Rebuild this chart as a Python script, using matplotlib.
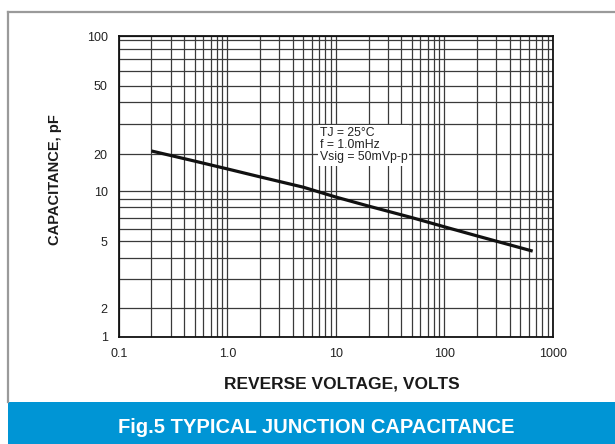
import numpy as np
import matplotlib
matplotlib.use("Agg")
import matplotlib.pyplot as plt
from matplotlib.lines import Line2D
from matplotlib.patches import Rectangle

# === Data ===
voltage = [0.2, 0.5, 1, 2, 5, 10, 20, 50, 100, 200, 650]
capacitance = [20.9, 17.6, 15.2, 13.1, 10.8, 9.2, 8.1, 7.0, 6.15, 5.4, 4.37]

x_ticks = [0.1, 1, 10, 100, 1000]
x_tick_labels = ["0.1", "1.0", "10", "100", "1000"]
y_ticks = [1, 2, 5, 10, 20, 50, 100]
y_tick_labels = ["1", "2", "5", "10", "20", "50", "100"]
y_grid = [1, 2, 3, 4, 5, 6, 7, 8, 9, 10, 20, 30, 40, 50, 60, 70, 80, 90, 100]

# the printed graph paper is not a clean log scale: grid line heights
# (fraction of axis height from the bottom) for each value in y_grid
y_paper = [0.0, 0.0964, 0.1929, 0.2641, 0.3183, 0.3605, 0.3971, 0.4324,
           0.4603, 0.4846, 0.6077, 0.7084, 0.7816, 0.8355, 0.8837, 0.9236,
           0.9568, 0.9867, 1.0]

log_grid = np.log10(y_grid)


def paper_fwd(v):
    v = np.asarray(v, dtype=float)
    with np.errstate(divide="ignore", invalid="ignore"):
        lv = np.log10(np.clip(v, 1e-6, None))
    return np.interp(lv, log_grid, y_paper, left=-1.0, right=2.0)


def paper_inv(p):
    p = np.asarray(p, dtype=float)
    return 10 ** np.interp(p, y_paper, log_grid)


plt.rcParams["font.family"] = ["Liberation Sans", "DejaVu Sans"]

fig = plt.figure(figsize=(6.15, 4.44), dpi=100)
ax = fig.add_axes([0.1932, 0.241, 0.706, 0.6772])

ax.set_xscale("log")
ax.set_yscale("function", functions=(paper_fwd, paper_inv))
ax.set_xlim(0.1, 1000)
ax.set_ylim(1, 100)

ax.plot(voltage, capacitance, color="#111111", lw=2.3, solid_capstyle="butt", zorder=3)

# ticks and grid
ax.set_xticks(x_ticks)
ax.set_xticklabels(x_tick_labels)
ax.set_xticks([m * d for d in x_ticks[:-1] for m in range(2, 10)], minor=True)
ax.set_yticks(y_ticks)
ax.set_yticklabels(y_tick_labels)
ax.set_yticks([v for v in y_grid if v not in y_ticks], minor=True)
ax.tick_params(which="both", length=0)
ax.tick_params(axis="y", pad=8, labelsize=9, labelcolor="#222222")
ax.tick_params(axis="x", pad=8, labelsize=9, labelcolor="#222222")
ax.grid(True, which="both", color="#3a3a3a", lw=0.9)
ax.set_axisbelow(True)
for sp in ax.spines.values():
    sp.set_color("#111111")
    sp.set_linewidth(1.3)

ax.set_xlabel("REVERSE VOLTAGE, VOLTS", fontsize=12.5, fontweight="bold",
              color="#1a1a1a", va="center")
ax.xaxis.set_label_coords(0.514, -0.156)
ax.set_ylabel("CAPACITANCE, pF", fontsize=10.5, fontweight="bold",
              color="#1a1a1a", va="center")
ax.yaxis.set_label_coords(-0.147, 0.522)

ax.text(0.4625, 0.697, "TJ = 25°C\nf = 1.0mHz\nVsig = 50mVp-p",
        transform=ax.transAxes, ha="left", va="top", fontsize=8.8,
        linespacing=1.0, color="#222222", zorder=4,
        bbox=dict(facecolor="white", edgecolor="none", pad=1.5))

# page frame and caption banner
fig.add_artist(Line2D([8 / 615, 8 / 615], [1 - 12 / 444, 1 - 402 / 444],
                      transform=fig.transFigure, color="#9a9a9a", lw=1.6))
fig.add_artist(Line2D([8 / 615, 1.0], [1 - 12 / 444, 1 - 12 / 444],
                      transform=fig.transFigure, color="#9a9a9a", lw=1.6))
fig.add_artist(Rectangle((8 / 615, 0), 1, 42.3 / 444, transform=fig.transFigure,
                         facecolor="#0095d5", edgecolor="none"))
fig.text(0.515, 1 - 427 / 444, "Fig.5 TYPICAL JUNCTION CAPACITANCE",
         ha="center", va="center", color="white", fontsize=14.5, fontweight="bold")

fig.savefig("out.png", dpi=100)
